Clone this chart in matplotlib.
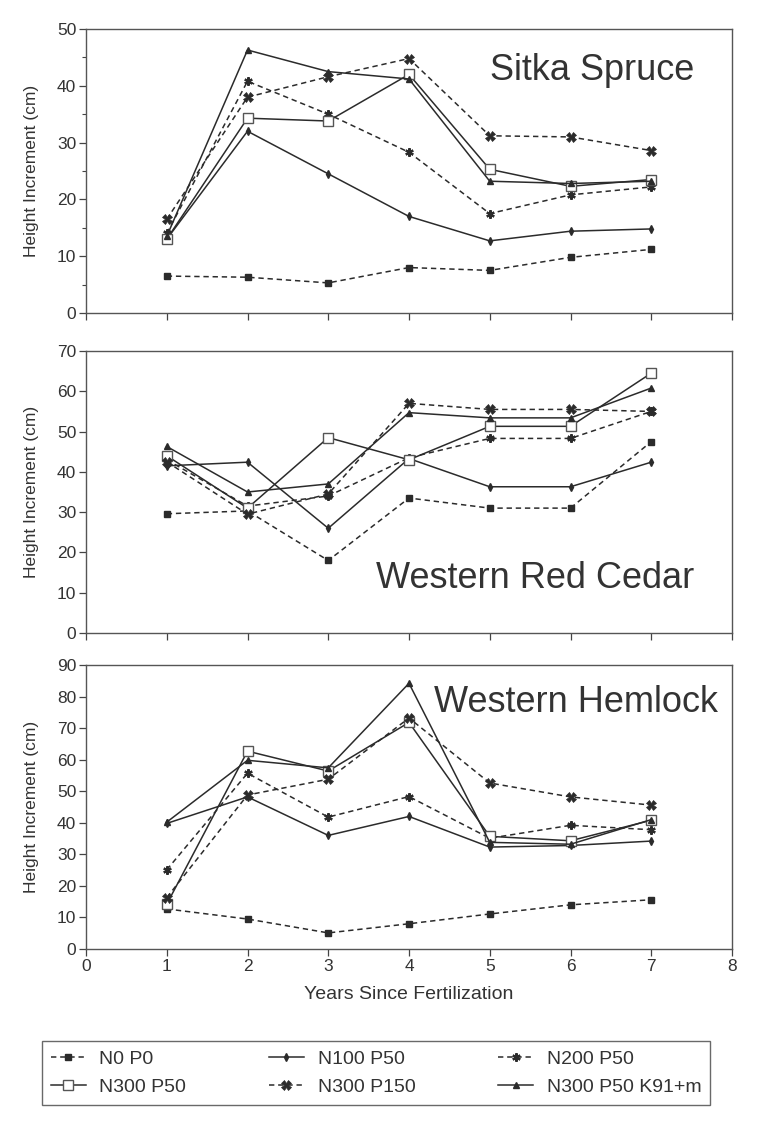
import matplotlib
matplotlib.use("Agg")
import matplotlib.pyplot as plt
from matplotlib.ticker import MultipleLocator
from matplotlib.lines import Line2D

plt.rcParams['font.family'] = ['Liberation Sans', 'DejaVu Sans']

years = [1, 2, 3, 4, 5, 6, 7]
series_labels = ["N0 P0", "N100 P50", "N200 P50", "N300 P50", "N300 P150", "N300 P50 K91+m"]

# Sitka Spruce
ss_n0_p0 = [6.5, 6.3, 5.3, 8.0, 7.5, 9.8, 11.2]
ss_n100_p50 = [13.0, 32.0, 24.5, 17.0, 12.7, 14.4, 14.8]
ss_n200_p50 = [14.0, 40.8, 35.0, 28.3, 17.5, 20.8, 22.2]
ss_n300_p50 = [13.0, 34.3, 33.8, 42.0, 25.3, 22.3, 23.5]
ss_n300_p150 = [16.5, 38.0, 41.6, 44.8, 31.2, 31.0, 28.6]
ss_n300_p50_k = [13.5, 46.3, 42.5, 41.2, 23.2, 22.8, 23.2]

# Western Red Cedar
rc_n0_p0 = [29.6, 30.3, 18.0, 33.5, 31.0, 31.0, 47.5]
rc_n100_p50 = [41.5, 42.4, 26.0, 43.3, 36.3, 36.3, 42.4]
rc_n200_p50 = [43.0, 31.5, 34.0, 43.5, 48.3, 48.3, 55.0]
rc_n300_p50 = [44.0, 31.0, 48.5, 43.0, 51.3, 51.3, 64.5]
rc_n300_p150 = [42.5, 29.5, 34.5, 57.0, 55.5, 55.5, 55.0]
rc_n300_p50_k = [46.3, 35.0, 37.0, 54.7, 53.4, 53.4, 60.8]

# Western Hemlock
wh_n0_p0 = [12.7, 9.5, 5.1, 8.0, 11.1, 14.0, 15.6]
wh_n100_p50 = [39.8, 48.2, 36.0, 42.0, 32.3, 32.8, 34.2]
wh_n200_p50 = [25.1, 55.7, 41.8, 48.3, 35.1, 39.2, 37.8]
wh_n300_p50 = [14.2, 62.7, 56.4, 71.8, 35.7, 34.3, 40.8]
wh_n300_p150 = [16.3, 48.8, 53.8, 73.2, 52.6, 48.2, 45.6]
wh_n300_p50_k = [40.2, 59.8, 57.4, 84.2, 33.8, 33.2, 41.0]

panel_titles = ["Sitka Spruce", "Western Red Cedar", "Western Hemlock"]
panel_ymax = [50, 70, 90]
x_ticks = [0, 1, 2, 3, 4, 5, 6, 7, 8]
ylabel = "Height Increment (cm)"
xlabel = "Years Since Fertilization"

panels = [
    [ss_n0_p0, ss_n100_p50, ss_n200_p50, ss_n300_p50, ss_n300_p150, ss_n300_p50_k],
    [rc_n0_p0, rc_n100_p50, rc_n200_p50, rc_n300_p50, rc_n300_p150, rc_n300_p50_k],
    [wh_n0_p0, wh_n100_p50, wh_n200_p50, wh_n300_p50, wh_n300_p150, wh_n300_p50_k],
]

LC = '#2b2b2b'
dash = (0, (3.5, 2.5))
styles = [
    dict(ls=dash, marker='s', ms=5, mfc=LC, mec=LC),
    dict(ls='-', marker='d', ms=4, mfc=LC, mec=LC),
    dict(ls=dash, marker=(6, 2, 0), ms=6, mfc=LC, mec=LC, mew=1.6),
    dict(ls='-', marker='s', ms=6.5, mfc='white', mec='#555555', mew=1.0),
    dict(ls=dash, marker='X', ms=6.5, mfc=LC, mec=LC, mew=0.5),
    dict(ls='-', marker='^', ms=5, mfc=LC, mec=LC),
]

W, H = 767, 1141
fig = plt.figure(figsize=(W / 100, H / 100), dpi=100)
fig.patch.set_facecolor('white')

ax_px = [(29, 313), (351, 633), (665, 949)]
left_px, right_px = 86, 732
title_pos = [(0.941, 0.82, 'right'), (0.941, 0.16, 'right'), (0.978, 0.835, 'right')]

axes = []
for i, (top, bot) in enumerate(ax_px):
    ax = fig.add_axes([left_px / W, 1 - bot / H, (right_px - left_px) / W, (bot - top) / H])
    axes.append(ax)
    for vals, st in zip(panels[i], styles):
        ax.plot(years, vals, color=LC, lw=1.1, **st)
    ax.set_xlim(0, 8)
    ax.set_ylim(0, panel_ymax[i])
    ax.set_xticks(x_ticks)
    ax.yaxis.set_major_locator(MultipleLocator(10))
    if i == 0:
        ax.yaxis.set_minor_locator(MultipleLocator(5))
    ax.tick_params(axis='both', which='major', direction='out', length=5, width=0.9,
                   colors='#444444', labelsize=12.5, labelcolor='#333333', pad=2)
    ax.tick_params(axis='y', which='minor', direction='out', length=3, width=0.8, colors='#444444')
    if i < 2:
        ax.tick_params(axis='x', labelbottom=False)
    for sp in ax.spines.values():
        sp.set_color('#555555')
        sp.set_linewidth(1.0)
    ax.set_ylabel(ylabel, fontsize=12.5, color='#333333')
    ax.yaxis.set_label_coords((39 - left_px) / (right_px - left_px), 0.5)
    tx, ty, ha = title_pos[i]
    ax.text(tx, ty, panel_titles[i], transform=ax.transAxes, ha=ha, va='baseline',
            fontsize=26, color='#333333')

axes[2].set_xlabel(xlabel, fontsize=14, color='#333333', labelpad=9)

handles = [Line2D([], [], color=LC, lw=1.1, **st) for st in styles]
order = [0, 3, 1, 4, 2, 5]
leg = fig.legend([handles[k] for k in order], [series_labels[k] for k in order],
                 ncol=3, loc='center',
                 bbox_to_anchor=(42 / W, 1 - 1106 / H, (710 - 42) / W, (1106 - 1040) / H),
                 mode='expand', fontsize=14, frameon=True, fancybox=False,
                 edgecolor='#444444', handlelength=1.8, handletextpad=0.7,
                 borderaxespad=0, labelspacing=0.55, borderpad=0.45)
leg.get_frame().set_linewidth(1.0)
for t in leg.get_texts():
    t.set_color('#333333')

fig.savefig('out.png', dpi=100, facecolor='white')
